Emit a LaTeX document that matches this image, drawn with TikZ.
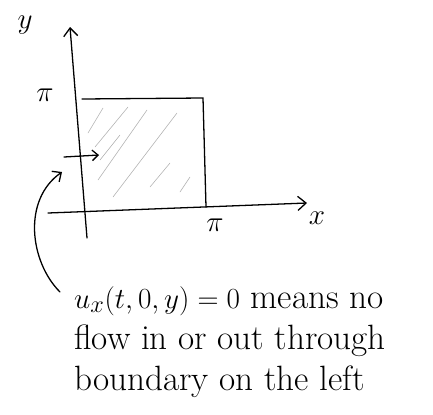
\documentclass[tikz,border=0pt]{standalone}
\usepackage{amsmath}
\usepackage{tikz}
\usetikzlibrary{arrows.meta}

\begin{document}
\begin{tikzpicture}[x=0.03cm, y=-0.03cm,
    pen/.style={line width=1.1pt, black, line cap=round},
    hatch/.style={line width=0.5pt, gray!60, line cap=round},
    lbl/.style={font=\fontsize{24}{28}\selectfont, inner sep=0pt}]

    \useasboundingbox (0,0) rectangle (433,414);

    % === Axes ===
    \coordinate (ybot) at (87,238);
    \coordinate (ytop) at (70,27);
    \coordinate (xleft) at (48,213);
    \coordinate (xright) at (307,203);
    \draw[pen, -{Straight Barb[length=7pt, width=12pt]}] (ybot) -- (ytop);
    \draw[pen, -{Straight Barb[length=7pt, width=12pt]}] (xleft) -- (xright);

    % Axis labels
    \node[lbl, font=\fontsize{28}{32}\selectfont] (ylab) at (25,25) {$y$};
    \node[lbl] (xlab) at (317,218) {$x$};
    \node[lbl] (pitop) at (45,95) {$\pi$};
    \node[lbl] (piright) at (215,225) {$\pi$};

    % === Square domain ===
    \coordinate (sqtl) at (82,99);
    \coordinate (sqtr) at (203,98);
    \coordinate (sqbr) at (206,207);
    \draw[pen] (sqtl) -- (sqtr) -- (sqbr);

    % Hatching inside the square
    \foreach \a/\b/\c/\d in {88/133/103/108, 95/147/128/107, 98/180/147/110,
                             100/160/120/135, 113/197/177/113, 150/187/170/163,
                             180/192/190/177} {
        \draw[hatch] (\a,\b) -- (\c,\d);
    }

    % === Boundary flux arrow ===
    \coordinate (fluxa) at (64,157);
    \coordinate (fluxb) at (99,155);
    \draw[pen, -{Straight Barb[length=5pt, width=9pt]}] (fluxa) -- (fluxb);

    % === Note ===
    \node[lbl, anchor=north west, align=left,
          font=\fontsize{30}{35}\selectfont] (note) at (74,286)
        {$u_x(t,0,y)=0$ means no\\ flow in or out through\\ boundary on the left};

    % Curved pointer from note to left boundary
    \coordinate (ptrstart) at (60,292);
    \coordinate (ptrend) at (62,172);
    \draw[pen, -{Straight Barb[length=6pt, width=11pt]}]
        (ptrstart) .. controls (30,262) and (22,200) .. (ptrend);

\end{tikzpicture}
\end{document}
